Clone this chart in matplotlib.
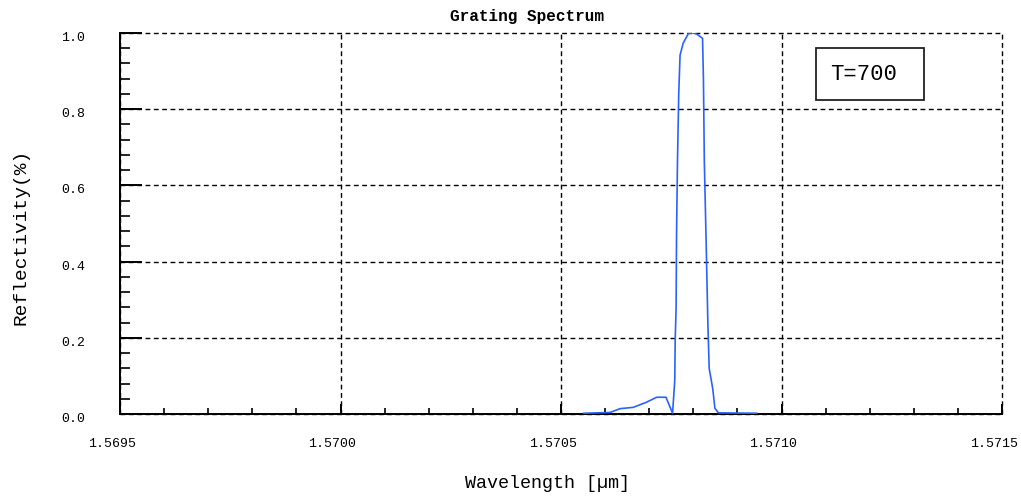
import matplotlib
matplotlib.use("Agg")
import matplotlib.pyplot as plt
from matplotlib.patches import Rectangle
from matplotlib.ticker import MultipleLocator, FormatStrFormatter
import matplotlib.transforms as mtransforms

wavelength = [1.570551, 1.570611, 1.570634, 1.570664, 1.570694, 1.570717, 1.570738,
              1.570753, 1.570758, 1.570759, 1.570761, 1.570762, 1.570764, 1.570767,
              1.570770, 1.570777, 1.570789, 1.570800, 1.570808, 1.570821, 1.570823,
              1.570825, 1.570829, 1.570833, 1.570836, 1.570844, 1.570849, 1.570857,
              1.570944]
reflect = [0.002, 0.004, 0.014, 0.0175, 0.031, 0.044, 0.044,
           0.002, 0.089, 0.198, 0.277, 0.47, 0.654, 0.842,
           0.942, 0.973, 0.999, 1.0, 0.997, 0.986, 0.877,
           0.662, 0.457, 0.24, 0.12, 0.067, 0.015, 0.003,
           0.002]
title = "Grating Spectrum"
xlabel = "Wavelength [µm]"
ylabel = "Reflectivity(%)"
box_text = "T=700"

mono = ["Liberation Mono", "DejaVu Sans Mono"]
plt.rcParams['font.family'] = mono

fig = plt.figure(figsize=(10.21, 4.99), dpi=100)
ax = fig.add_axes([120/1021, 1-414/499, 882/1021, 381/499])
ax.plot(wavelength, reflect, color="#2a62ff", lw=1.2, zorder=3)
ax.set_xlim(1.5695, 1.5715)
ax.set_ylim(0, 1.0)
ax.xaxis.set_major_locator(MultipleLocator(0.0005))
ax.xaxis.set_minor_locator(MultipleLocator(0.0001))
ax.yaxis.set_major_locator(MultipleLocator(0.2))
ax.yaxis.set_minor_locator(MultipleLocator(0.04))
ax.xaxis.set_major_formatter(FormatStrFormatter('%.4f'))
ax.yaxis.set_major_formatter(FormatStrFormatter('%.1f'))
ax.grid(True, which='major', color='black', linestyle=(0, (3.5, 2.5)), lw=1.0)
for gl in ax.get_xgridlines() + ax.get_ygridlines():
    gl.set_clip_on(False)
for s in ['top', 'right']:
    ax.spines[s].set_visible(False)
for s in ['left', 'bottom']:
    ax.spines[s].set_linewidth(1.4)
ax.tick_params(axis='y', which='major', direction='in', length=16, width=1.4, pad=25, labelsize=9.5)
ax.tick_params(axis='y', which='minor', direction='in', length=7, width=1.2)
ax.tick_params(axis='x', which='major', direction='in', length=7, width=1.4, pad=17, labelsize=9.5)
ax.tick_params(axis='x', which='minor', direction='in', length=4, width=1.2)

# slight offsets of tick labels as in the reference
xoff = mtransforms.ScaledTranslation(-8/100, 0, fig.dpi_scale_trans)
for lab in ax.get_xticklabels():
    lab.set_transform(lab.get_transform() + xoff)
yoff = mtransforms.ScaledTranslation(0, -3.5/100, fig.dpi_scale_trans)
for lab in ax.get_yticklabels():
    lab.set_transform(lab.get_transform() + yoff)

fig.text(527.5/1021, 1-16/499, title, ha='center', va='center', fontsize=11.5, fontweight='bold')
fig.text(547.5/1021, 1-484/499, xlabel, ha='center', va='center', fontsize=13.2)
fig.text(21/1021, 1-236.5/499, ylabel, ha='center', va='center', rotation=90, fontsize=14)

ax.add_patch(Rectangle((0.789, 0.824), 0.1224, 0.1365, transform=ax.transAxes,
                       facecolor='white', edgecolor='#222222', lw=1.3, zorder=4))
ax.text(0.8435, 0.890, box_text, transform=ax.transAxes, ha='center', va='center',
        fontsize=16, zorder=5)

fig.savefig("out.png", dpi=100)
